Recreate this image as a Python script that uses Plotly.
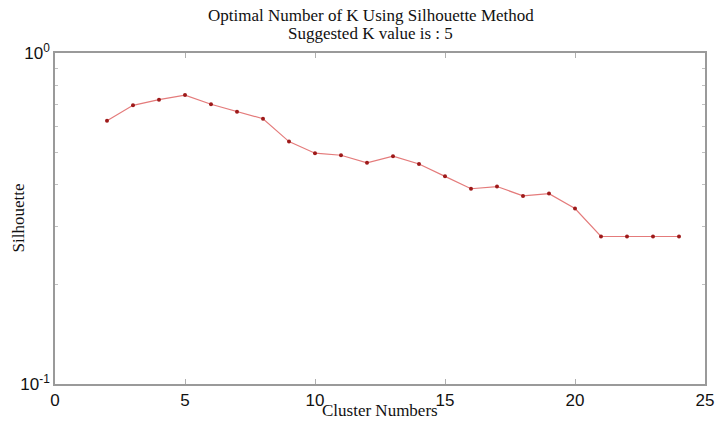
import plotly.graph_objects as go

k_values = list(range(2, 25))
silhouette = [0.624, 0.695, 0.723, 0.746, 0.700, 0.665, 0.633, 0.540, 0.498, 0.491,
              0.466, 0.488, 0.462, 0.424, 0.389, 0.395, 0.370, 0.376, 0.339,
              0.279, 0.279, 0.279, 0.279]
x_ticks = [0, 5, 10, 15, 20, 25]
y_ticks = [0.1, 1]
y_tick_labels = ["10<sup>-1</sup>", "10<sup>0</sup>"]
minor_y = [0.2, 0.3, 0.4, 0.5, 0.6, 0.7, 0.8, 0.9]
title_lines = ["Optimal Number of K Using Silhouette Method", "Suggested K value is : 5"]

serif = dict(family="Liberation Serif, Times New Roman", size=17, color="#111")

fig = go.Figure()
fig.add_trace(go.Scatter(
    x=k_values, y=silhouette, mode="lines+markers",
    line=dict(color="#e47b7b", width=1.2),
    marker=dict(color="#9e1a1a", size=4),
    showlegend=False,
))

axis_common = dict(
    showline=True, linecolor="#9a9a9a", linewidth=1.5, mirror="allticks",
    ticks="inside", tickcolor="#b0b0b0", ticklen=5, showgrid=False, zeroline=False,
    tickfont=dict(family="Liberation Sans, Arial", size=17, color="#111"),
)

fig.update_layout(
    width=725, height=423,
    margin=dict(l=54.5, r=11, t=53, b=39),
    paper_bgcolor="white", plot_bgcolor="white",
    xaxis=dict(range=[0, 25], tickvals=x_ticks, **axis_common),
    yaxis=dict(type="log", range=[-1, 0], tickvals=y_ticks, ticktext=y_tick_labels,
               minor=dict(tickvals=minor_y, ticks="inside", ticklen=3, tickcolor="#c0c0c0"),
               **axis_common),
)

fig.add_annotation(text=title_lines[0], xref="paper", yref="paper", x=0.486, y=1,
                   yanchor="middle", yshift=38, showarrow=False, font=serif)
fig.add_annotation(text=title_lines[1], xref="paper", yref="paper", x=0.486, y=1,
                   yanchor="middle", yshift=20, showarrow=False, font=serif)
fig.add_annotation(text="Cluster Numbers", xref="paper", yref="paper", x=0.5, y=0,
                   yanchor="middle", yshift=-26, showarrow=False, font=serif)
fig.add_annotation(text="Silhouette", xref="paper", yref="paper", x=0, y=0.5,
                   xanchor="center", xshift=-37, textangle=-90, showarrow=False, font=serif)

fig.write_html("out.html")
